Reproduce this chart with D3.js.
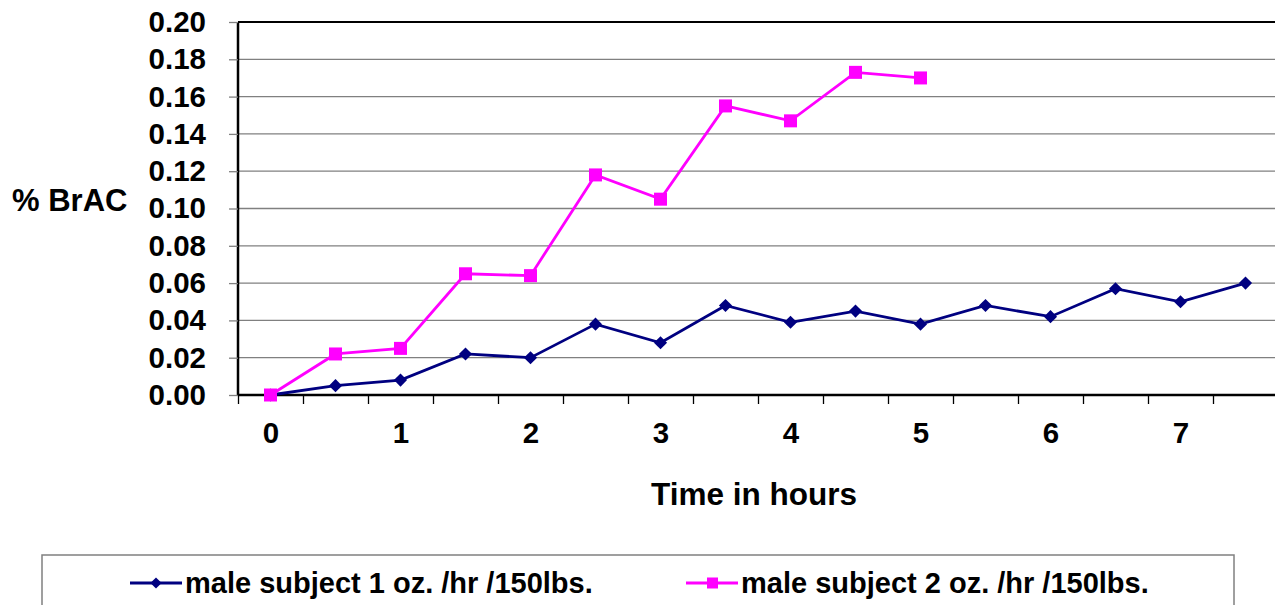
<!DOCTYPE html>
<html>
<head>
<meta charset="utf-8">
<script src="https://cdn.jsdelivr.net/npm/d3@7"></script>
<style>
  body { margin: 0; background: #fff; }
  svg { display: block; font-family: Arial, "Liberation Sans", sans-serif; font-weight: bold; }
</style>
</head>
<body>
<div id="chart"></div>
<script>
// hours (one category every half hour)
var hours = [0, 0.5, 1, 1.5, 2, 2.5, 3, 3.5, 4, 4.5, 5, 5.5, 6, 6.5, 7, 7.5];
var hourLabels = [0, 1, 2, 3, 4, 5, 6, 7];
var yTicks = [0, 0.02, 0.04, 0.06, 0.08, 0.10, 0.12, 0.14, 0.16, 0.18, 0.20];

var seriesNames = ["male subject 1 oz. /hr /150lbs.", "male subject 2 oz. /hr /150lbs."];
var oneOz = [0, 0.005, 0.008, 0.022, 0.020, 0.038, 0.028, 0.048, 0.039, 0.045, 0.038, 0.048, 0.042, 0.057, 0.050, 0.060];
var twoOz = [0, 0.022, 0.025, 0.065, 0.064, 0.118, 0.105, 0.155, 0.147, 0.173, 0.170];

const W = 1275, H = 605;
const margin = {top: 22, left: 238};
const plotW = 1040, plotH = 373;

const svg = d3.select("#chart").append("svg")
    .attr("width", W)
    .attr("height", H);

const g = svg.append("g")
    .attr("transform", `translate(${margin.left}, ${margin.top})`);

const x = d3.scaleLinear().domain([-0.25, 7.75]).range([0, plotW]);
const y = d3.scaleLinear().domain([0, 0.2]).range([plotH, 0]);

// gridlines
g.append("g").selectAll("line")
    .data(yTicks.slice(1))
    .enter().append("line")
    .attr("x1", 0).attr("x2", plotW)
    .attr("y1", d => y(d)).attr("y2", d => y(d))
    .attr("stroke", d => d === 0.2 ? "#000" : "#808080")
    .attr("stroke-width", d => d === 0.2 ? 2 : 1.3);

// y axis
const yAxis = g.append("g")
    .call(d3.axisLeft(y).tickValues(yTicks).tickFormat(d3.format(".2f")).tickSize(9).tickPadding(23));
yAxis.select(".domain").attr("stroke", "#000").attr("stroke-width", 2.5).attr("d", `M0,${plotH}V0`);
yAxis.selectAll(".tick line").attr("stroke", "#808080").attr("stroke-width", 1.3);
yAxis.selectAll("text").attr("font-size", 29.5).attr("font-family", "Arial, 'Liberation Sans', sans-serif").attr("font-weight", "bold").attr("fill", "#000");

// x axis: tick marks at category boundaries
const boundaries = hours.map(h => h - 0.25);
const xAxis = g.append("g")
    .attr("transform", `translate(0, ${plotH})`)
    .call(d3.axisBottom(x).tickValues(boundaries).tickFormat("").tickSize(9));
xAxis.select(".domain").attr("stroke", "#000").attr("stroke-width", 2.5).attr("d", `M0,0H${plotW}`);
xAxis.selectAll(".tick line").attr("stroke", "#000").attr("stroke-width", 1.3);

// x labels on whole hours
const xLab = g.append("g")
    .attr("transform", `translate(0, ${plotH})`)
    .call(d3.axisBottom(x).tickValues(hourLabels).tickFormat(d3.format("d")).tickSize(0).tickPadding(27));
xLab.select(".domain").remove();
xLab.selectAll("text").attr("font-size", 29.5).attr("font-family", "Arial, 'Liberation Sans', sans-serif").attr("font-weight", "bold").attr("fill", "#000");

// axis titles
svg.append("text")
    .attr("x", 12).attr("y", 211)
    .attr("font-size", 31)
    .text("% BrAC");

svg.append("text")
    .attr("x", 754).attr("y", 505)
    .attr("text-anchor", "middle")
    .attr("font-size", 31.5)
    .text("Time in hours");

// lines
const line = d3.line()
    .x((d, i) => x(hours[i]))
    .y(d => y(d));

const navy = "#000080", magenta = "#FF00FF";

g.append("path")
    .datum(oneOz)
    .attr("d", line)
    .attr("fill", "none")
    .attr("stroke", navy)
    .attr("stroke-width", 2.8);

g.append("path")
    .datum(twoOz)
    .attr("d", line)
    .attr("fill", "none")
    .attr("stroke", magenta)
    .attr("stroke-width", 2.8);

const diamond = d3.symbol().type(d3.symbolDiamond2).size(110);

g.append("g").selectAll("path")
    .data(oneOz)
    .enter().append("path")
    .attr("d", diamond)
    .attr("transform", (d, i) => `translate(${x(hours[i])}, ${y(d)})`)
    .attr("fill", navy);

g.append("g").selectAll("rect")
    .data(twoOz)
    .enter().append("rect")
    .attr("x", (d, i) => x(hours[i]) - 6.5)
    .attr("y", d => y(d) - 6.5)
    .attr("width", 13).attr("height", 13)
    .attr("fill", magenta);

// legend
svg.append("rect")
    .attr("x", 42).attr("y", 555)
    .attr("width", 1192).attr("height", 80)
    .attr("fill", "none")
    .attr("stroke", "#808080")
    .attr("stroke-width", 1.5);

const legendX = [130, 686];
const legendY = 583;
[navy, magenta].forEach(function (c, i) {
    svg.append("line")
        .attr("x1", legendX[i]).attr("x2", legendX[i] + 52)
        .attr("y1", legendY).attr("y2", legendY)
        .attr("stroke", c).attr("stroke-width", 2.8);
    if (i === 0) {
        svg.append("path")
            .attr("d", d3.symbol().type(d3.symbolDiamond2).size(80))
            .attr("transform", `translate(${legendX[i] + 26}, ${legendY})`)
            .attr("fill", c);
    } else {
        svg.append("rect")
            .attr("x", legendX[i] + 21).attr("y", legendY - 5.5)
            .attr("width", 11).attr("height", 11)
            .attr("fill", c);
    }
    svg.append("text")
        .attr("x", legendX[i] + 55).attr("y", legendY + 10)
        .attr("font-size", 29)
        .text(seriesNames[i]);
});
</script>
</body>
</html>
